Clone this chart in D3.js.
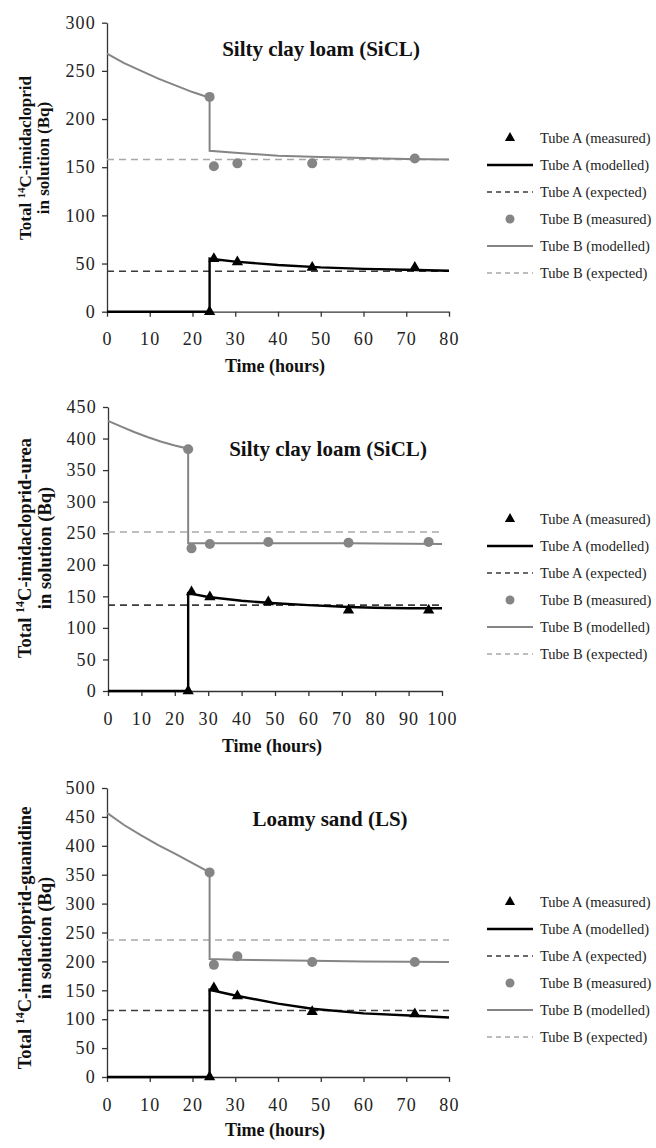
<!DOCTYPE html>
<html>
<head>
<meta charset="utf-8">
<script src="https://cdn.jsdelivr.net/npm/d3@7"></script>
<style>
  body { margin: 0; background: #fff; }
  svg text { font-family: "Liberation Serif", "Times New Roman", serif; }
  .axis text { font-size: 18px; letter-spacing: 1.2px; fill: #222; }
  .axis path, .axis line { stroke: #333; stroke-width: 1.3; }
  .legend text { font-size: 14.5px; fill: #222; }
</style>
</head>
<body>
<div id="chart"></div>
<script>
// ---- panel 1 : imidacloprid, SiCL ----
const p1MeasTimes = [24, 25, 30.5, 48, 72];
const p1AMeas = [0, 55, 51.5, 46, 46];
const p1BMeas = [223, 151, 154, 154, 159];
const p1AModelTimes = [0, 24, 24, 30, 40, 50, 60, 70, 80];
const p1AModel = [0, 0, 55, 52, 48.5, 46, 44.5, 43.5, 42.5];
const p1BModelTimes = [0, 4, 8, 12, 16, 20, 24, 24, 30, 40, 50, 60, 70, 80];
const p1BModel = [268, 258, 250, 242, 235, 228, 222, 167, 165, 162, 160.5, 159.5, 158.5, 158];
const p1AExpected = 42;
const p1BExpected = 158;
const p1YTicks = [0, 50, 100, 150, 200, 250, 300];
const p1XTicks = [0, 10, 20, 30, 40, 50, 60, 70, 80];

// ---- panel 2 : imidacloprid-urea, SiCL ----
const p2MeasTimes = [24, 25, 30.5, 48, 72, 96];
const p2AMeas = [0, 157, 149, 141, 128, 128];
const p2BMeas = [383, 226, 233, 236, 235, 236];
const p2AModelTimes = [0, 24, 24, 30, 40, 50, 60, 72, 80, 90, 100];
const p2AModel = [0, 0, 155, 149, 143, 139, 136, 133, 132, 131, 131];
const p2BModelTimes = [0, 4, 8, 12, 16, 20, 24, 24, 30, 48, 72, 100];
const p2BModel = [428, 419, 410, 402, 395, 389, 384, 234, 234, 234, 234, 233];
const p2AExpected = 136;
const p2BExpected = 252;
const p2YTicks = [0, 50, 100, 150, 200, 250, 300, 350, 400, 450];
const p2XTicks = [0, 10, 20, 30, 40, 50, 60, 70, 80, 90, 100];

// ---- panel 3 : imidacloprid-guanidine, LS ----
const p3MeasTimes = [24, 25, 30.5, 48, 72];
const p3AMeas = [0, 154, 140, 113, 109];
const p3BMeas = [354, 194, 209, 199, 199];
const p3AModelTimes = [0, 24, 24, 30, 40, 48, 60, 72, 80];
const p3AModel = [0, 0, 151, 141, 127, 118, 110, 106, 103];
const p3BModelTimes = [0, 4, 8, 12, 16, 20, 24, 24, 30, 48, 60, 80];
const p3BModel = [457, 436, 418, 401, 386, 370, 354, 204, 203, 201, 200, 199];
const p3AExpected = 115;
const p3BExpected = 237;
const p3YTicks = [0, 50, 100, 150, 200, 250, 300, 350, 400, 450, 500];
const p3XTicks = [0, 10, 20, 30, 40, 50, 60, 70, 80];

const seriesNames = ["Tube A (measured)", "Tube A (modelled)", "Tube A (expected)",
                     "Tube B (measured)", "Tube B (modelled)", "Tube B (expected)"];

const colA = "#000000", colAexp = "#3a3a3a", colB = "#858585", colBexp = "#a8a8a8";

const svg = d3.select("#chart").append("svg")
  .attr("width", 656).attr("height", 1148);

const panels = [
  { title: "Silty clay loam (SiCL)", titleX: 321, titleY: 56,
    yLabel: "imidacloprid", yLabelSize: 17, yLabelMid: 158,
    top: 22.7, bottom: 311.7, left: 107, right: 449, xMax: 80, yMax: 300,
    xTicks: p1XTicks, yTicks: p1YTicks, timeY: 372, legendY: 138,
    meas: p1MeasTimes, aMeas: p1AMeas, bMeas: p1BMeas,
    aT: p1AModelTimes, aM: p1AModel, bT: p1BModelTimes, bM: p1BModel,
    aE: p1AExpected, bE: p1BExpected },
  { title: "Silty clay loam (SiCL)", titleX: 328, titleY: 456,
    yLabel: "imidacloprid-urea", yLabelSize: 18.5, yLabelMid: 548,
    top: 407, bottom: 691, left: 108, right: 442, xMax: 100, yMax: 450,
    xTicks: p2XTicks, yTicks: p2YTicks, timeY: 752, legendY: 519,
    meas: p2MeasTimes, aMeas: p2AMeas, bMeas: p2BMeas,
    aT: p2AModelTimes, aM: p2AModel, bT: p2BModelTimes, bM: p2BModel,
    aE: p2AExpected, bE: p2BExpected },
  { title: "Loamy sand (LS)", titleX: 330, titleY: 826,
    yLabel: "imidacloprid-guanidine", yLabelSize: 18.5, yLabelMid: 938,
    top: 788, bottom: 1077, left: 107, right: 449, xMax: 80, yMax: 500,
    xTicks: p3XTicks, yTicks: p3YTicks, timeY: 1136, legendY: 902,
    meas: p3MeasTimes, aMeas: p3AMeas, bMeas: p3BMeas,
    aT: p3AModelTimes, aM: p3AModel, bT: p3BModelTimes, bM: p3BModel,
    aE: p3AExpected, bE: p3BExpected }
];

panels.forEach(drawPanel);

function drawPanel(p) {
  const g = svg.append("g");
  const x = d3.scaleLinear().domain([0, p.xMax]).range([p.left, p.right]);
  const y = d3.scaleLinear().domain([0, p.yMax]).range([p.bottom, p.top]);

  // axes
  g.append("g").attr("class", "axis")
    .attr("transform", `translate(0,${p.bottom})`)
    .call(d3.axisBottom(x).tickValues(p.xTicks).tickSize(5).tickSizeOuter(0).tickPadding(16));
  g.append("g").attr("class", "axis")
    .attr("transform", `translate(${p.left},0)`)
    .call(d3.axisLeft(y).tickValues(p.yTicks).tickSize(5).tickSizeOuter(0).tickPadding(6));

  const line = d3.line().x(d => x(d[0])).y(d => y(d[1]));

  // expected (dashed)
  g.append("line")
    .attr("x1", x(0)).attr("x2", x(p.xMax)).attr("y1", y(p.bE)).attr("y2", y(p.bE))
    .attr("stroke", colBexp).attr("stroke-width", 1.6).attr("stroke-dasharray", "7,5");
  g.append("line")
    .attr("x1", x(0)).attr("x2", x(p.xMax)).attr("y1", y(p.aE)).attr("y2", y(p.aE))
    .attr("stroke", colAexp).attr("stroke-width", 1.6).attr("stroke-dasharray", "7,5");

  // modelled
  g.append("path").datum(d3.zip(p.bT, p.bM)).attr("d", line)
    .attr("fill", "none").attr("stroke", colB).attr("stroke-width", 2);
  g.append("path").datum(d3.zip(p.aT, p.aM)).attr("d", line)
    .attr("fill", "none").attr("stroke", colA).attr("stroke-width", 2.4);

  // measured
  g.selectAll("circle.b").data(d3.zip(p.meas, p.bMeas)).join("circle")
    .attr("class", "b").attr("cx", d => x(d[0])).attr("cy", d => y(d[1]))
    .attr("r", 5).attr("fill", colB);
  g.selectAll("path.a").data(d3.zip(p.meas, p.aMeas)).join("path")
    .attr("class", "a")
    .attr("transform", d => `translate(${x(d[0])},${y(d[1])})`)
    .attr("d", d3.symbol(d3.symbolTriangle, 55)).attr("fill", colA);

  // titles
  g.append("text").attr("x", p.titleX).attr("y", p.titleY)
    .attr("text-anchor", "middle").attr("font-weight", "bold")
    .attr("font-size", 21).attr("fill", "#111").text(p.title);

  g.append("text").attr("x", (p.left + p.right) / 2 - 3).attr("y", p.timeY)
    .attr("text-anchor", "middle").attr("font-weight", "bold")
    .attr("font-size", 18).attr("fill", "#111").text("Time (hours)");

  const yl = g.append("text")
    .attr("transform", `translate(31,${p.yLabelMid}) rotate(-90)`)
    .attr("text-anchor", "middle").attr("font-weight", "bold")
    .attr("font-size", p.yLabelSize).attr("fill", "#111");
  yl.append("tspan").text("Total ");
  yl.append("tspan").attr("font-size", p.yLabelSize * 0.65).attr("baseline-shift", "super").text("14");
  yl.append("tspan").text("C-" + p.yLabel);
  g.append("text")
    .attr("transform", `translate(${31 + p.yLabelSize + 1},${p.yLabelMid}) rotate(-90)`)
    .attr("text-anchor", "middle").attr("font-weight", "bold")
    .attr("font-size", p.yLabelSize).attr("fill", "#111")
    .text("in solution (Bq)");

  // legend
  const lg = g.append("g").attr("class", "legend");
  seriesNames.forEach((name, i) => {
    const ly = p.legendY + i * 27;
    const row = lg.append("g");
    if (i === 0) {
      row.append("path").attr("transform", `translate(510,${ly})`)
        .attr("d", d3.symbol(d3.symbolTriangle, 45)).attr("fill", colA);
    } else if (i === 3) {
      row.append("circle").attr("cx", 510).attr("cy", ly).attr("r", 4.5).attr("fill", colB);
    } else {
      const styles = {1: [colA, 2.4, null], 2: [colAexp, 1.4, "5,4"],
                      4: [colB, 2, null], 5: [colBexp, 1.4, "5,4"]};
      const s = styles[i];
      row.append("line").attr("x1", 487).attr("x2", 533).attr("y1", ly).attr("y2", ly)
        .attr("stroke", s[0]).attr("stroke-width", s[1]).attr("stroke-dasharray", s[2]);
    }
    row.append("text").attr("x", 540).attr("y", ly + 5).text(name);
  });
}
</script>
</body>
</html>
